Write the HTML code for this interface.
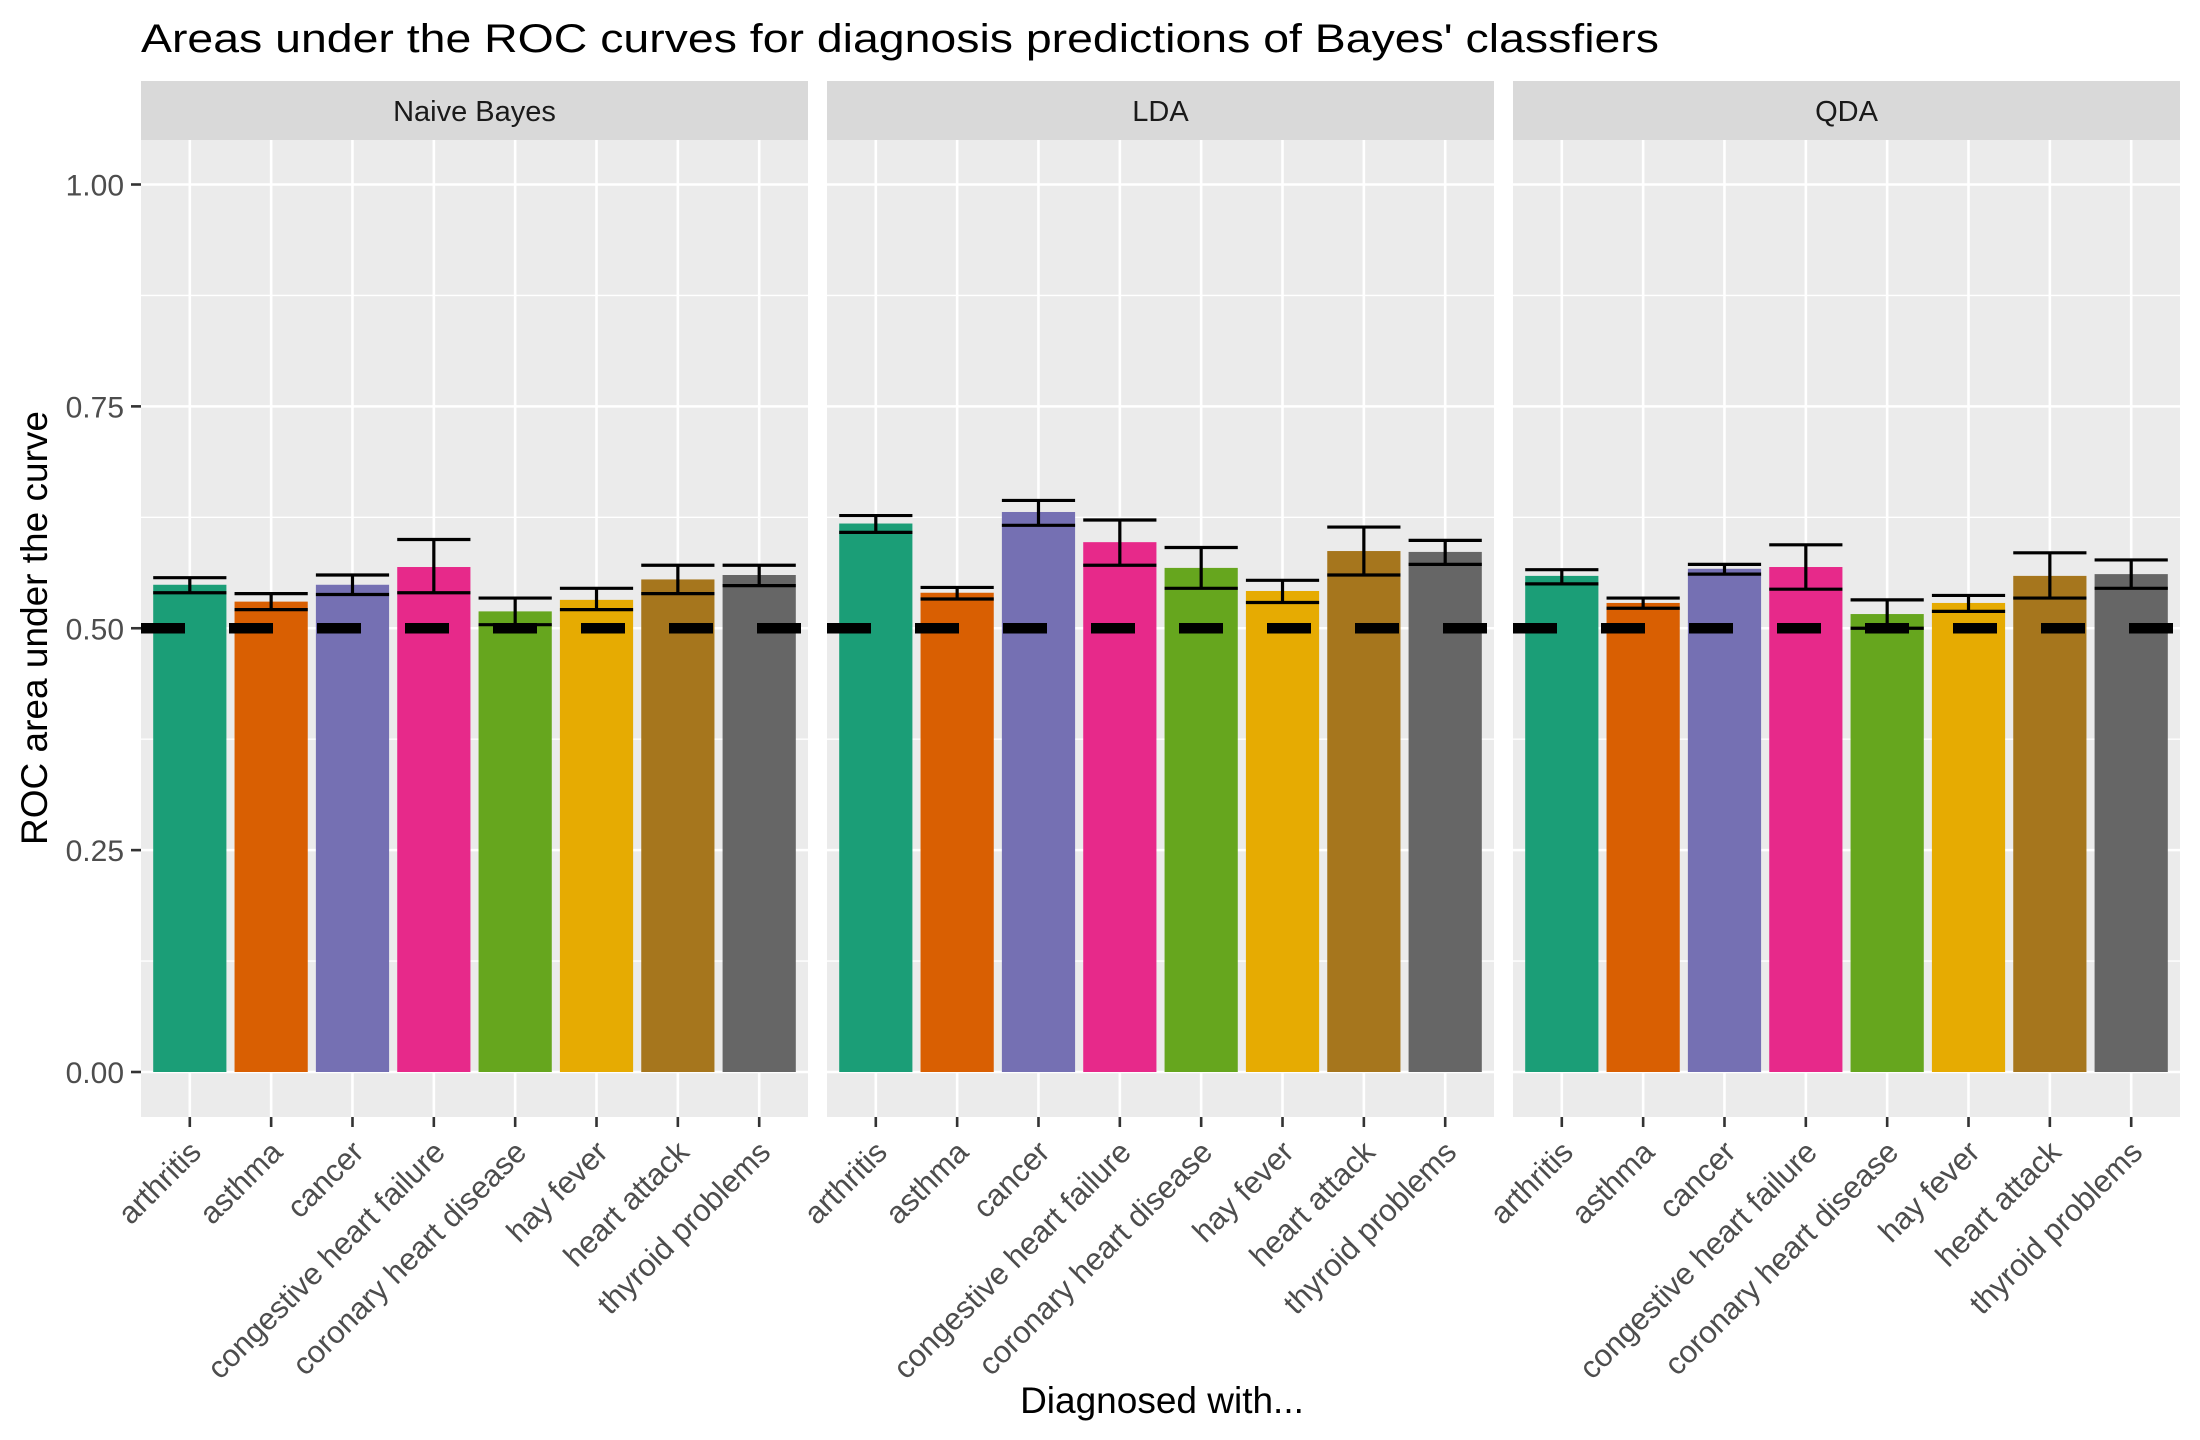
<!DOCTYPE html>
<html><head><meta charset="utf-8"><style>
html,body{margin:0;padding:0;background:#fff;}
svg{display:block;font-family:"Liberation Sans",Arial,sans-serif;}
</style></head>
<body>
<svg id="chart" width="2200" height="1440" viewBox="0 0 2200 1440" xmlns="http://www.w3.org/2000/svg">
<rect width="2200" height="1440" fill="#fff"/>
<text x="141" y="52" font-size="40" fill="#000" textLength="1518" lengthAdjust="spacingAndGlyphs">Areas under the ROC curves for diagnosis predictions of Bayes' classfiers</text>
<text transform="translate(47,628) rotate(-90)" text-anchor="middle" font-size="37" fill="#000">ROC area under the curve</text>
<text x="1162" y="1413" text-anchor="middle" font-size="37" fill="#000">Diagnosed with...</text>
<g id="plots"></g>
</svg>
<script>
const categories = ["arthritis","asthma","cancer","congestive heart failure","coronary heart disease","hay fever","heart attack","thyroid problems"];
const panels = ["Naive Bayes","LDA","QDA"];
const colors = ["#1B9E77","#D95F02","#7570B3","#E7298A","#66A61E","#E6AB02","#A6761D","#666666"];
const nbMean = [0.549,0.530,0.549,0.569,0.519,0.532,0.555,0.560];
const nbLow  = [0.540,0.521,0.538,0.540,0.504,0.521,0.539,0.548];
const nbHigh = [0.557,0.539,0.560,0.600,0.534,0.545,0.571,0.571];
const ldaMean = [0.618,0.540,0.631,0.597,0.568,0.542,0.587,0.586];
const ldaLow  = [0.608,0.533,0.616,0.571,0.545,0.529,0.560,0.572];
const ldaHigh = [0.627,0.546,0.644,0.622,0.591,0.554,0.614,0.599];
const qdaMean = [0.559,0.5285,0.567,0.569,0.516,0.5285,0.559,0.561];
const qdaLow  = [0.550,0.5225,0.561,0.544,0.500,0.519,0.534,0.545];
const qdaHigh = [0.566,0.534,0.572,0.594,0.532,0.537,0.585,0.577];
const yTicks = [0, 0.25, 0.5, 0.75, 1.0];
const yTickLabels = ["0.00","0.25","0.50","0.75","1.00"];
const refLine = 0.5;

const means = [nbMean, ldaMean, qdaMean];
const lows = [nbLow, ldaLow, qdaLow];
const highs = [nbHigh, ldaHigh, qdaHigh];

const NS = "http://www.w3.org/2000/svg";
const g = document.getElementById("plots");
const panelX0 = [141, 827, 1513];
const panelW = 667, panelTop = 140, panelBottom = 1117, stripTop = 81;
function yScale(v){ return 1072 - v * 887.5; }
function xScale(p, i){ return panelX0[p] + (i + 0.6) * (panelW / 8.2); }
const unit = panelW / 8.2;
function mk(tag, attrs, parent){
  const e = document.createElementNS(NS, tag);
  for (const k in attrs) e.setAttribute(k, attrs[k]);
  (parent || g).appendChild(e);
  return e;
}

panels.forEach((pname, p) => {
  const x0 = panelX0[p];
  const pg = mk("g", {});
  
  
  const bg = mk("rect", {x:x0, y:panelTop, width:panelW, height:panelBottom-panelTop, fill:"#EBEBEB"}, pg);
  
  
  [0.125,0.375,0.625,0.875].forEach(v => {
    const l = mk("line", {x1:x0, x2:x0+panelW, y1:yScale(v), y2:yScale(v), stroke:"#fff", "stroke-width":1.3}, pg);
    
    
  });
  yTicks.forEach(v => {
    const l = mk("line", {x1:x0, x2:x0+panelW, y1:yScale(v), y2:yScale(v), stroke:"#fff", "stroke-width":2.6}, pg);
    
    
  });
  categories.forEach((c, i) => {
    const l = mk("line", {x1:xScale(p,i), x2:xScale(p,i), y1:panelTop, y2:panelBottom, stroke:"#fff", "stroke-width":2.6}, pg);
    
    
  });
  const st = mk("rect", {x:x0, y:stripTop, width:panelW, height:panelTop-stripTop, fill:"#D9D9D9"}, pg);
  
  
  const stt = mk("text", {x:x0+panelW/2, y:121, "text-anchor":"middle", "font-size":29, fill:"#1A1A1A"}, pg);
  stt.textContent = pname;
  
  
  categories.forEach((c, i) => {
    const cx = xScale(p,i), w = 0.9*unit;
    const b = mk("rect", {x:cx-w/2, y:yScale(means[p][i]), width:w, height:yScale(0)-yScale(means[p][i]), fill:colors[i]}, pg);
    
    
  });
  categories.forEach((c, i) => {
    const cx = xScale(p,i), w = 0.9*unit;
    const eg = mk("g", {stroke:"#000", "stroke-width":3.2, fill:"none"}, pg);
    
    
    const yl = yScale(lows[p][i]), yh = yScale(highs[p][i]);
    mk("line", {x1:cx, x2:cx, y1:yl, y2:yh}, eg);
    mk("line", {x1:cx-w/2, x2:cx+w/2, y1:yl, y2:yl}, eg);
    mk("line", {x1:cx-w/2, x2:cx+w/2, y1:yh, y2:yh}, eg);
  });
  const rl = mk("line", {x1:x0, x2:x0+panelW, y1:yScale(refLine), y2:yScale(refLine), stroke:"#000", "stroke-width":10.5, "stroke-dasharray":"44 44"}, pg);
  
  
  categories.forEach((c, i) => {
    const cx = xScale(p,i);
    const t = mk("line", {x1:cx, x2:cx, y1:panelBottom, y2:panelBottom+10, stroke:"#333", "stroke-width":2.6}, pg);
    
    
    const tx = mk("text", {transform:"translate(" + (cx+13) + ",1154) rotate(-45)", "text-anchor":"end", "font-size":31, fill:"#4D4D4D"}, pg);
    tx.textContent = c;
    
    
  });
});
yTicks.forEach((v, k) => {
  const t = mk("line", {x1:131, x2:141, y1:yScale(v), y2:yScale(v), stroke:"#333", "stroke-width":2.6});
  
  
  const tx = mk("text", {x:124, y:yScale(v)+11, "text-anchor":"end", "font-size":30, fill:"#4D4D4D"});
  tx.textContent = yTickLabels[k];
  
  
});
</script>
</body></html>
